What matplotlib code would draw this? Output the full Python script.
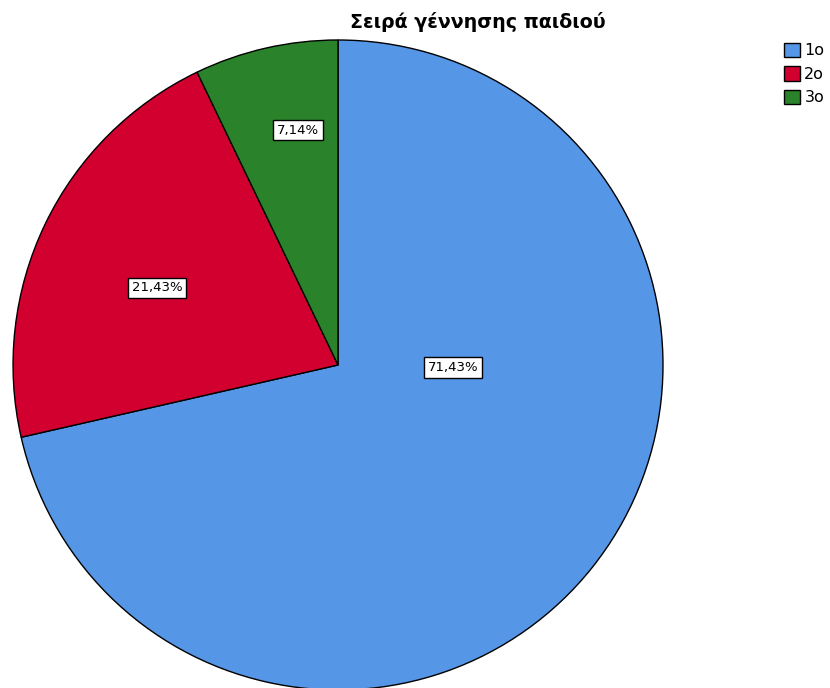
import matplotlib.pyplot as plt
from matplotlib.patches import Patch

# Birth order of the child, percent of cases
categories = ['1ο', '2ο', '3ο']
percents = [71.43, 21.43, 7.14]
colors = ['#5596e6', '#d1002f', '#2a832a']

# where each percent label sits inside the pie (radius units)
label_pos = [(0.354, -0.009), (-0.557, 0.237), (-0.123, 0.723)]

fig = plt.figure(figsize=(8.3, 6.88), dpi=100)
ax = fig.add_axes([0.0157, -0.0029, 0.7831, 0.9448])

wedges, _ = ax.pie(percents, colors=colors, startangle=90, counterclock=False,
                   wedgeprops=dict(edgecolor='black', linewidth=1))
for w in wedges:
    w.set_clip_on(False)
ax.set_xlim(-1, 1)
ax.set_ylim(-1, 1)
ax.set_aspect('equal')
ax.axis('off')

for p, (x, y) in zip(percents, label_pos):
    ax.text(x, y, f'{p:.2f}%'.replace('.', ','), ha='center', va='center',
            fontsize=9.5, family='DejaVu Sans',
            bbox=dict(boxstyle='square,pad=0.3', fc='white', ec='black', lw=1))

fig.text(0.576, 0.968, 'Σειρά γέννησης παιδιού', ha='center', va='center',
         fontsize=13.7, fontweight='bold')

handles = [Patch(facecolor=c, edgecolor='black', label=l) for c, l in zip(colors, categories)]
fig.legend(handles=handles, loc='upper left', bbox_to_anchor=(0.945, 0.938),
           frameon=False, fontsize=11.5, handlelength=1.0, handleheight=1.0,
           handletextpad=0.25, labelspacing=0.5, borderpad=0, borderaxespad=0)

fig.savefig('out.png', dpi=100)
